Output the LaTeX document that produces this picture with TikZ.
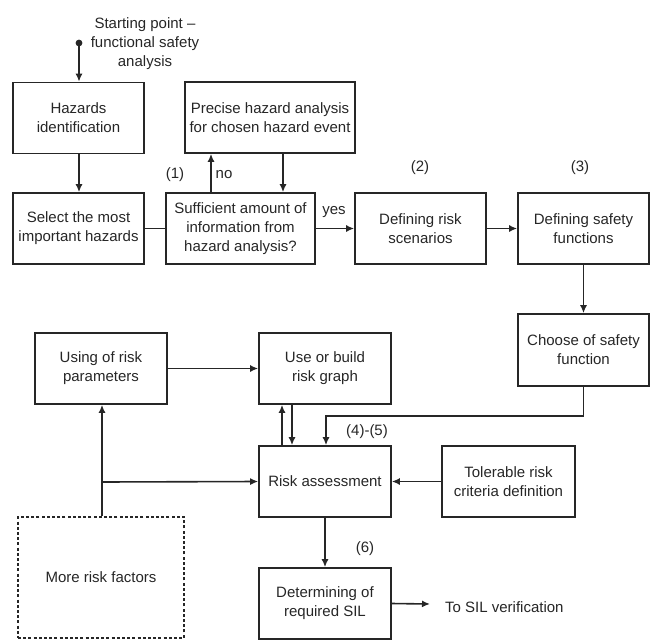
\documentclass[tikz,border=0pt]{standalone}
\usepackage{fontspec}
\setmainfont{Liberation Sans}
\usetikzlibrary{arrows.meta,calc}
\begin{document}
\begin{tikzpicture}[x=1pt,y=-1pt,
  box/.style={draw=black!85,line width=1.6pt,minimum width=131pt,minimum height=71pt,inner sep=2pt,
    align=center,font=\fontsize{15}{19}\selectfont,text=black!85},
  dbox/.style={box,dashed,dash pattern=on 3pt off 2.2pt},
  lbl/.style={font=\fontsize{15}{19}\selectfont,text=black!85,inner sep=0pt,align=center},
  conn/.style={line width=1.6pt,draw=black!85},
  arr/.style={conn,-{Latex[length=8pt,width=7pt]}}]
\useasboundingbox (0,0) rectangle (650,642);
% nodes
\node[box] (haz) at (78.5,118) {Hazards\\identification};
\node[box] (sel) at (78.5,228.5) {Select the most\\important hazards};
\node[box,minimum width=170pt] (pre) at (270,117.5) {Precise hazard analysis\\for chosen hazard event};
\node[box,minimum width=149pt] (suf) at (240.5,228.5) {Sufficient amount of\\information from\\hazard analysis?};
\node[box] (scen) at (420.5,228.5) {Defining risk\\scenarios};
\node[box] (sfn) at (583.5,228.5) {Defining safety\\functions};
\node[box,minimum height=72pt] (cho) at (583.5,350) {Choose of safety\\function};
\node[box,minimum width=132pt] (use) at (101,368.5) {Using of risk\\parameters};
\node[box,minimum width=132pt] (bld) at (325,368.5) {Use or build\\risk graph};
\node[box,minimum width=132pt] (ra) at (325,481.5) {Risk assessment};
\node[box,minimum width=133pt] (tol) at (508.5,481.5) {Tolerable risk\\criteria definition};
\node[box,minimum width=132pt] (det) at (325,603.5) {Determining of\\required SIL};
\node[dbox,minimum width=166pt,minimum height=121pt] (more) at (101,577.5) {More risk factors};
% labels
\node[lbl] (start) at (145,44) {Starting point --\\functional safety\\analysis};
\node[lbl] (l1) at (175,175) {(1)};
\node[lbl] (no) at (224,175) {no};
\node[lbl] (yes) at (334,212) {yes};
\node[lbl] (l2) at (420,168) {(2)};
\node[lbl] (l3) at (580,168) {(3)};
\node[lbl] (l45) at (367,432) {(4)-(5)};
\node[lbl] (l6) at (365,549) {(6)};
\node[lbl,anchor=west] (sil) at (445,607) {To SIL verification};
% coordinates
\coordinate (dot) at (79,43);
\coordinate (jn) at (102,482);
\coordinate (silend) at (430,604);
\fill[black!85] (dot) circle (3.4pt);
% connectors
\draw[arr] (dot) -- (dot |- haz.north);
\draw[arr] (haz.south -| dot) -- (sel.north -| dot);
\draw[conn] (sel.east) -- (suf.west);
\draw[arr] (suf.north -| 211,0) -- (pre.south -| 211,0);
\draw[arr] (pre.south -| 283,0) -- (suf.north -| 283,0);
\draw[arr] (suf.east) -- (scen.west);
\draw[arr] (scen.east) -- (sfn.west);
\draw[arr] (sfn.south) -- (cho.north);
\draw[arr] (use.east) -- (bld.west);
\draw[arr] (ra.north -| 282,0) -- (bld.south -| 282,0);
\draw[arr] (bld.south -| 292,0) -- (ra.north -| 292,0);
\draw[arr] (cho.south) |- (326,416) -- (ra.north -| 326,0);
\draw[arr] (more.north -| jn) -- (use.south -| jn);
\draw[arr] (jn) -- (ra.west);
\draw[arr] (tol.west) -- (ra.east);
\draw[arr] (ra.south) -- (det.north);
\draw[arr] (det.east) -- (silend);
\end{tikzpicture}
\end{document}
